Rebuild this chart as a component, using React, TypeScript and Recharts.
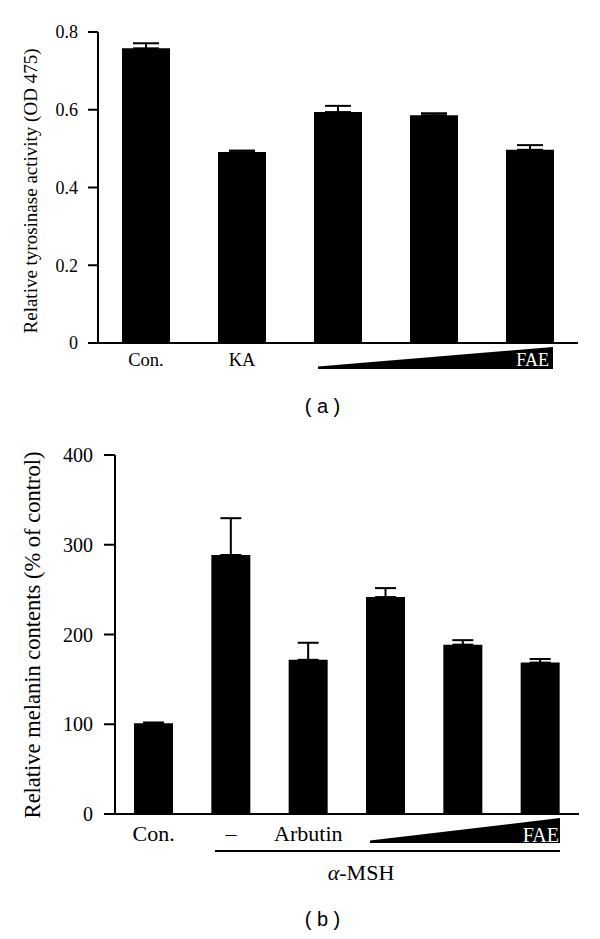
import React from "react";
import { BarChart, Bar, XAxis, YAxis, ErrorBar } from "recharts";

// panel (a): tyrosinase activity
const groupsA = ["Con.", "KA", "FAE 1", "FAE 2", "FAE 3"];
const labelsA = ["Con.", "KA", "", "", ""];
const activityA = [0.758, 0.491, 0.594, 0.586, 0.497];
const semA = [0.013, 0.004, 0.016, 0.005, 0.012];
const ticksA = [0, 0.2, 0.4, 0.6, 0.8];

// panel (b): melanin contents
const groupsB = ["Con.", "MSH", "Arbutin", "FAE 1", "FAE 2", "FAE 3"];
const labelsB = ["Con.", "–", "Arbutin", "", "", ""];
const melaninB = [101, 288.6, 171.8, 241.7, 188.7, 168.7];
const semB = [1, 41, 19, 10, 5, 4];
const ticksB = [0, 100, 200, 300, 400];

const dataA = groupsA.map((g, i) => ({ group: g, value: activityA[i], err: [0, semA[i]] }));
const dataB = groupsB.map((g, i) => ({ group: g, value: melaninB[i], err: [0, semB[i]] }));

const SERIF = "Liberation Serif, Times New Roman, Times, DejaVu Serif, serif";
const SANS = "Liberation Sans, Arial, sans-serif";

const serif = (size: number, fill = "#000") => ({ fontFamily: SERIF, fontSize: size, fill });

export default function App() {
  return (
    <div style={{ position: "absolute", left: 0, top: 0, width: 600, height: 939, background: "#fff" }}>
      <div style={{ position: "absolute", left: 0, top: 0 }}>
        <BarChart width={600} height={380} data={dataA} margin={{ top: 32, right: 22, bottom: 0, left: 0 }}>
          <XAxis
            dataKey="group"
            height={37}
            interval={0}
            tickLine={false}
            tickSize={0}
            tickMargin={10}
            axisLine={{ stroke: "#000", strokeWidth: 2 }}
            tick={serif(18.5)}
            tickFormatter={(_v: string, i: number) => labelsA[i]}
          />
          <YAxis
            width={98}
            domain={[0, 0.8]}
            allowDataOverflow
            ticks={ticksA}
            tickSize={10}
            tickMargin={10}
            axisLine={{ stroke: "#000", strokeWidth: 2 }}
            tickLine={{ stroke: "#000", strokeWidth: 2 }}
            tick={serif(18)}
          />
          <Bar dataKey="value" fill="#000" barSize={48} isAnimationActive={false}>
            <ErrorBar dataKey="err" width={13} stroke="#000" strokeWidth={2} direction="y" isAnimationActive={false} />
          </Bar>
        </BarChart>
      </div>

      <div style={{ position: "absolute", left: 0, top: 420 }}>
        <BarChart width={600} height={434} data={dataB} margin={{ top: 35, right: 21, bottom: 0, left: 0 }}>
          <XAxis
            dataKey="group"
            height={40}
            interval={0}
            tickLine={false}
            tickSize={0}
            tickMargin={11}
            axisLine={{ stroke: "#000", strokeWidth: 2 }}
            tick={serif(22)}
            tickFormatter={(_v: string, i: number) => labelsB[i]}
          />
          <YAxis
            width={115}
            domain={[0, 400]}
            allowDataOverflow
            ticks={ticksB}
            tickSize={11}
            tickMargin={11}
            axisLine={{ stroke: "#000", strokeWidth: 2 }}
            tickLine={{ stroke: "#000", strokeWidth: 2 }}
            tick={serif(20)}
          />
          <Bar dataKey="value" fill="#000" barSize={39} isAnimationActive={false}>
            <ErrorBar dataKey="err" width={10.5} stroke="#000" strokeWidth={2} direction="y" isAnimationActive={false} />
          </Bar>
        </BarChart>
      </div>

      {/* axis titles, dose wedges and panel labels */}
      <svg width={600} height={939} style={{ position: "absolute", left: 0, top: 0, pointerEvents: "none" }}>
        <text x={37} y={191} transform="rotate(-90 37 191)" textAnchor="middle" fontFamily={SERIF} fontSize={19} fill="#000">
          Relative tyrosinase activity (OD 475)
        </text>
        <polygon points="318,366.5 553,347 553,369 318,369" fill="#000" />
        <text x={549} y={366} textAnchor="end" fontFamily={SERIF} fontSize={18} fill="#fff">
          FAE
        </text>
        <text x={322.5} y={413} textAnchor="middle" fontFamily={SANS} fontSize={20} fill="#000">
          ( a )
        </text>

        <text x={40} y={635} transform="rotate(-90 40 635)" textAnchor="middle" fontFamily={SERIF} fontSize={22.5} fill="#000">
          Relative melanin contents (% of control)
        </text>
        <polygon points="370,840.5 560,818 560,843 370,843" fill="#000" />
        <text x={559} y={842} textAnchor="end" fontFamily={SERIF} fontSize={20} fill="#fff">
          FAE
        </text>
        <line x1={215} y1={851} x2={560} y2={851} stroke="#000" strokeWidth={2} />
        <text x={361} y={880} textAnchor="middle" fontFamily={SERIF} fontSize={22} fill="#000">
          <tspan fontStyle="italic">α</tspan>-MSH
        </text>
        <text x={322.5} y={926} textAnchor="middle" fontFamily={SANS} fontSize={20} fill="#000">
          ( b )
        </text>
      </svg>
    </div>
  );
}
